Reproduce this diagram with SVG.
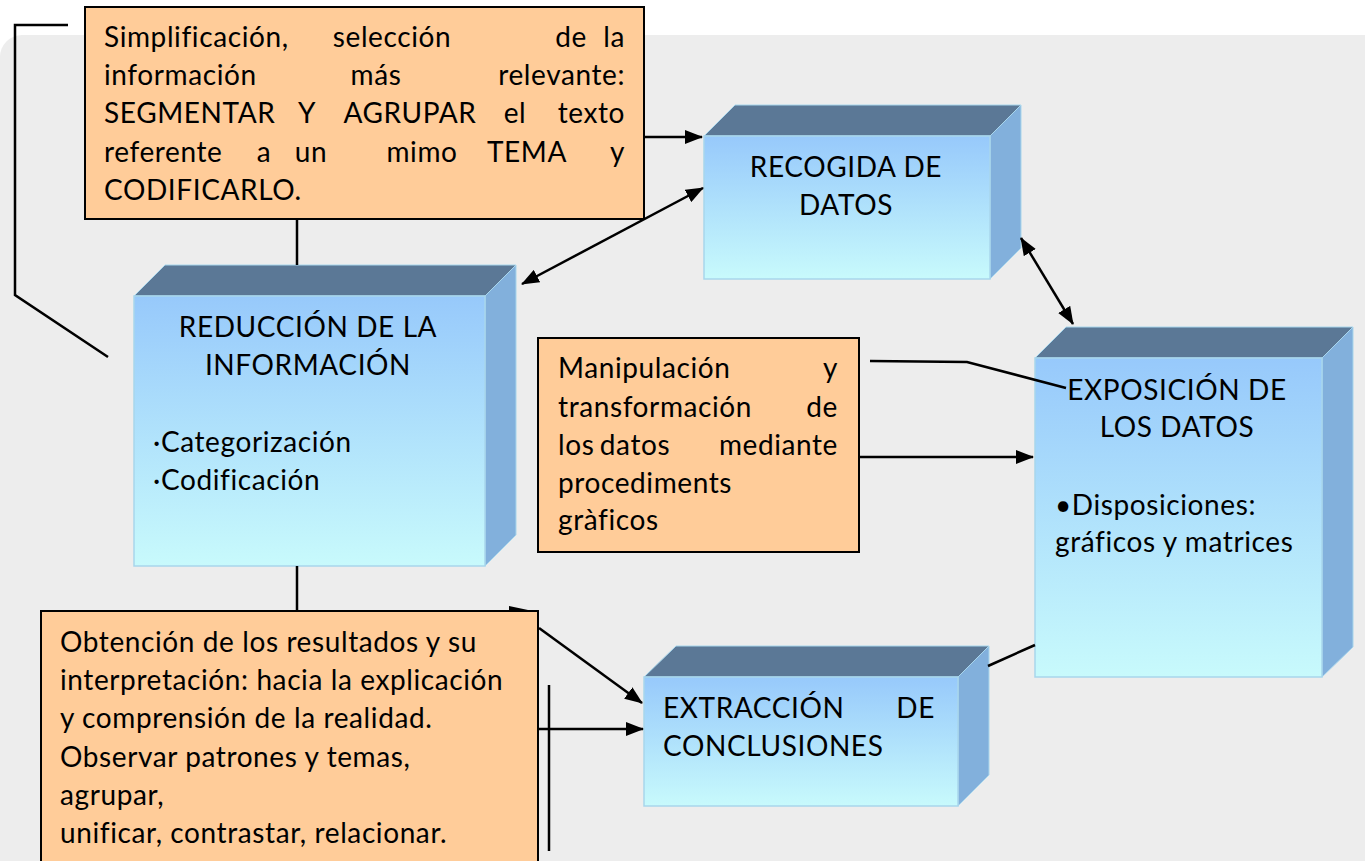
<svg xmlns="http://www.w3.org/2000/svg" width="1365" height="861" viewBox="0 0 1365 861">
<defs>
<linearGradient id="front" x1="0" y1="0" x2="0" y2="1">
<stop offset="0" stop-color="#97C9FB"/>
<stop offset="1" stop-color="#C8FAFC"/>
</linearGradient>
<marker id="ah" markerUnits="userSpaceOnUse" markerWidth="18" markerHeight="14" refX="17" refY="7" orient="auto-start-reverse">
<path d="M0,0 L18,7 L0,14 Z" fill="#000"/>
</marker>
</defs>
<style>
text{font-family:Lato,"Open Sans","Liberation Sans",sans-serif;font-size:28px;letter-spacing:0.6px;fill:#000}
.org{fill:#FFCC99;stroke:#000;stroke-width:2}
.fr{fill:url(#front);stroke:#A8D6EC;stroke-width:1.5}
.tp{fill:#5B7896;stroke:#A8D6EC;stroke-width:1}
.rt{fill:#82B0DC;stroke:#A8D6EC;stroke-width:1}
.ln{fill:none;stroke:#000;stroke-width:2.5}
.mid{text-anchor:middle}
.end{text-anchor:end}
</style>
<rect x="0" y="0" width="1365" height="861" fill="#FFFFFF"/>
<rect x="0" y="35" width="1400" height="900" rx="22" fill="#EDEDED"/>

<g id="n-simplificacion">
<rect class="org" x="85" y="7" width="559" height="212"/>
<text x="104" y="47">Simplificación,</text>
<text x="392" y="47" class="mid">selección</text>
<text x="571" y="47" class="mid">de</text>
<text x="625" y="47" class="end">la</text>
<text x="104" y="85">información</text>
<text x="376" y="85" class="mid">más</text>
<text x="625" y="85" class="end">relevante:</text>
<text x="104" y="123">SEGMENTAR</text>
<text x="307" y="123" class="mid">Y</text>
<text x="410" y="123" class="mid">AGRUPAR</text>
<text x="515" y="123" class="mid">el</text>
<text x="625" y="123" class="end">texto</text>
<text x="104" y="162">referente</text>
<text x="264" y="162" class="mid">a</text>
<text x="311" y="162" class="mid">un</text>
<text x="422" y="162" class="mid">mimo</text>
<text x="527" y="162" class="mid">TEMA</text>
<text x="625" y="162" class="end">y</text>
<text x="104" y="200">CODIFICARLO.</text>
</g>

<g id="n-recogida">
<polygon class="tp" points="704,136 735,105 1021,105 990,136"/>
<polygon class="rt" points="990,136 1021,105 1021,248 990,279"/>
<rect class="fr" x="704" y="136" width="286" height="143"/>
<text x="846" y="177" class="mid">RECOGIDA DE</text>
<text x="846" y="215" class="mid">DATOS</text>
</g>

<g id="n-reduccion">
<polygon class="tp" points="134,296 165,265 516,265 485,296"/>
<polygon class="rt" points="485,296 516,265 516,535 485,566"/>
<rect class="fr" x="134" y="296" width="351" height="270"/>
<text x="308" y="337" class="mid">REDUCCIÓN DE LA</text>
<text x="308" y="375" class="mid">INFORMACIÓN</text>
<text x="153" y="452">·Categorización</text>
<text x="153" y="490">·Codificación</text>
</g>

<g id="n-manipulacion">
<rect class="org" x="538" y="338" width="321" height="214"/>
<text x="558" y="378">Manipulación</text>
<text x="838" y="378" class="end">y</text>
<text x="558" y="417">transformación</text>
<text x="838" y="417" class="end">de</text>
<text x="558" y="455">los</text>
<text x="635" y="455" class="mid">datos</text>
<text x="838" y="455" class="end">mediante</text>
<text x="558" y="493">procediments</text>
<text x="558" y="530">gràficos</text>
</g>

<g id="n-exposicion">
<polygon class="tp" points="1035,358 1066,327 1353,327 1322,358"/>
<polygon class="rt" points="1322,358 1353,327 1353,647 1322,677"/>
<rect class="fr" x="1035" y="358" width="287" height="319"/>
<text x="1177" y="400" class="mid">EXPOSICIÓN DE</text>
<text x="1177" y="437" class="mid">LOS DATOS</text>
<text x="1055" y="515">•Disposiciones:</text>
<text x="1055" y="552">gráficos y matrices</text>
</g>

<g id="n-extraccion">
<polygon class="tp" points="644,677 676,646 989,646 958,677"/>
<polygon class="rt" points="958,677 989,646 989,775 958,806"/>
<rect class="fr" x="644" y="677" width="314" height="129"/>
<text x="663" y="718">EXTRACCIÓN</text>
<text x="935" y="718" class="end">DE</text>
<text x="663" y="756">CONCLUSIONES</text>
</g>

<g id="n-obtencion">
<rect class="org" x="41" y="611" width="497" height="260"/>
<text x="60" y="652">Obtención de los resultados y su</text>
<text x="60" y="690">interpretación: hacia la explicación</text>
<text x="60" y="728">y comprensión de la realidad.</text>
<text x="60" y="767">Observar patrones y temas,</text>
<text x="60" y="805">agrupar,</text>
<text x="60" y="843">unificar, contrastar, relacionar.</text>
</g>

<g id="connectors">
<polyline class="ln" points="68,25 15,25 15,295 108,357" stroke-width="2"/>
<line class="ln" x1="297" y1="220" x2="297" y2="265" stroke-width="2"/>
<line class="ln" x1="297" y1="566" x2="297" y2="610" stroke-width="2"/>
<line class="ln" x1="645" y1="137" x2="702" y2="137" marker-end="url(#ah)"/>
<line class="ln" x1="522" y1="284" x2="703" y2="188" marker-start="url(#ah)" marker-end="url(#ah)"/>
<line class="ln" x1="1021" y1="238" x2="1073" y2="324" marker-start="url(#ah)" marker-end="url(#ah)"/>
<polyline class="ln" points="870,361 967,362 1066,388" stroke-width="2"/>
<line class="ln" x1="860" y1="457" x2="1033" y2="457" marker-end="url(#ah)"/>
<line class="ln" x1="988" y1="666" x2="1035" y2="645"/>
<line class="ln" x1="539" y1="628" x2="642" y2="703" marker-end="url(#ah)"/>
<line class="ln" x1="539" y1="729" x2="643" y2="729" marker-end="url(#ah)"/>
<line class="ln" x1="549" y1="685" x2="549" y2="851" stroke-width="2"/>
<polygon points="509,606 528,610 522,611 509,611" fill="#000"/>
</g>
</svg>
